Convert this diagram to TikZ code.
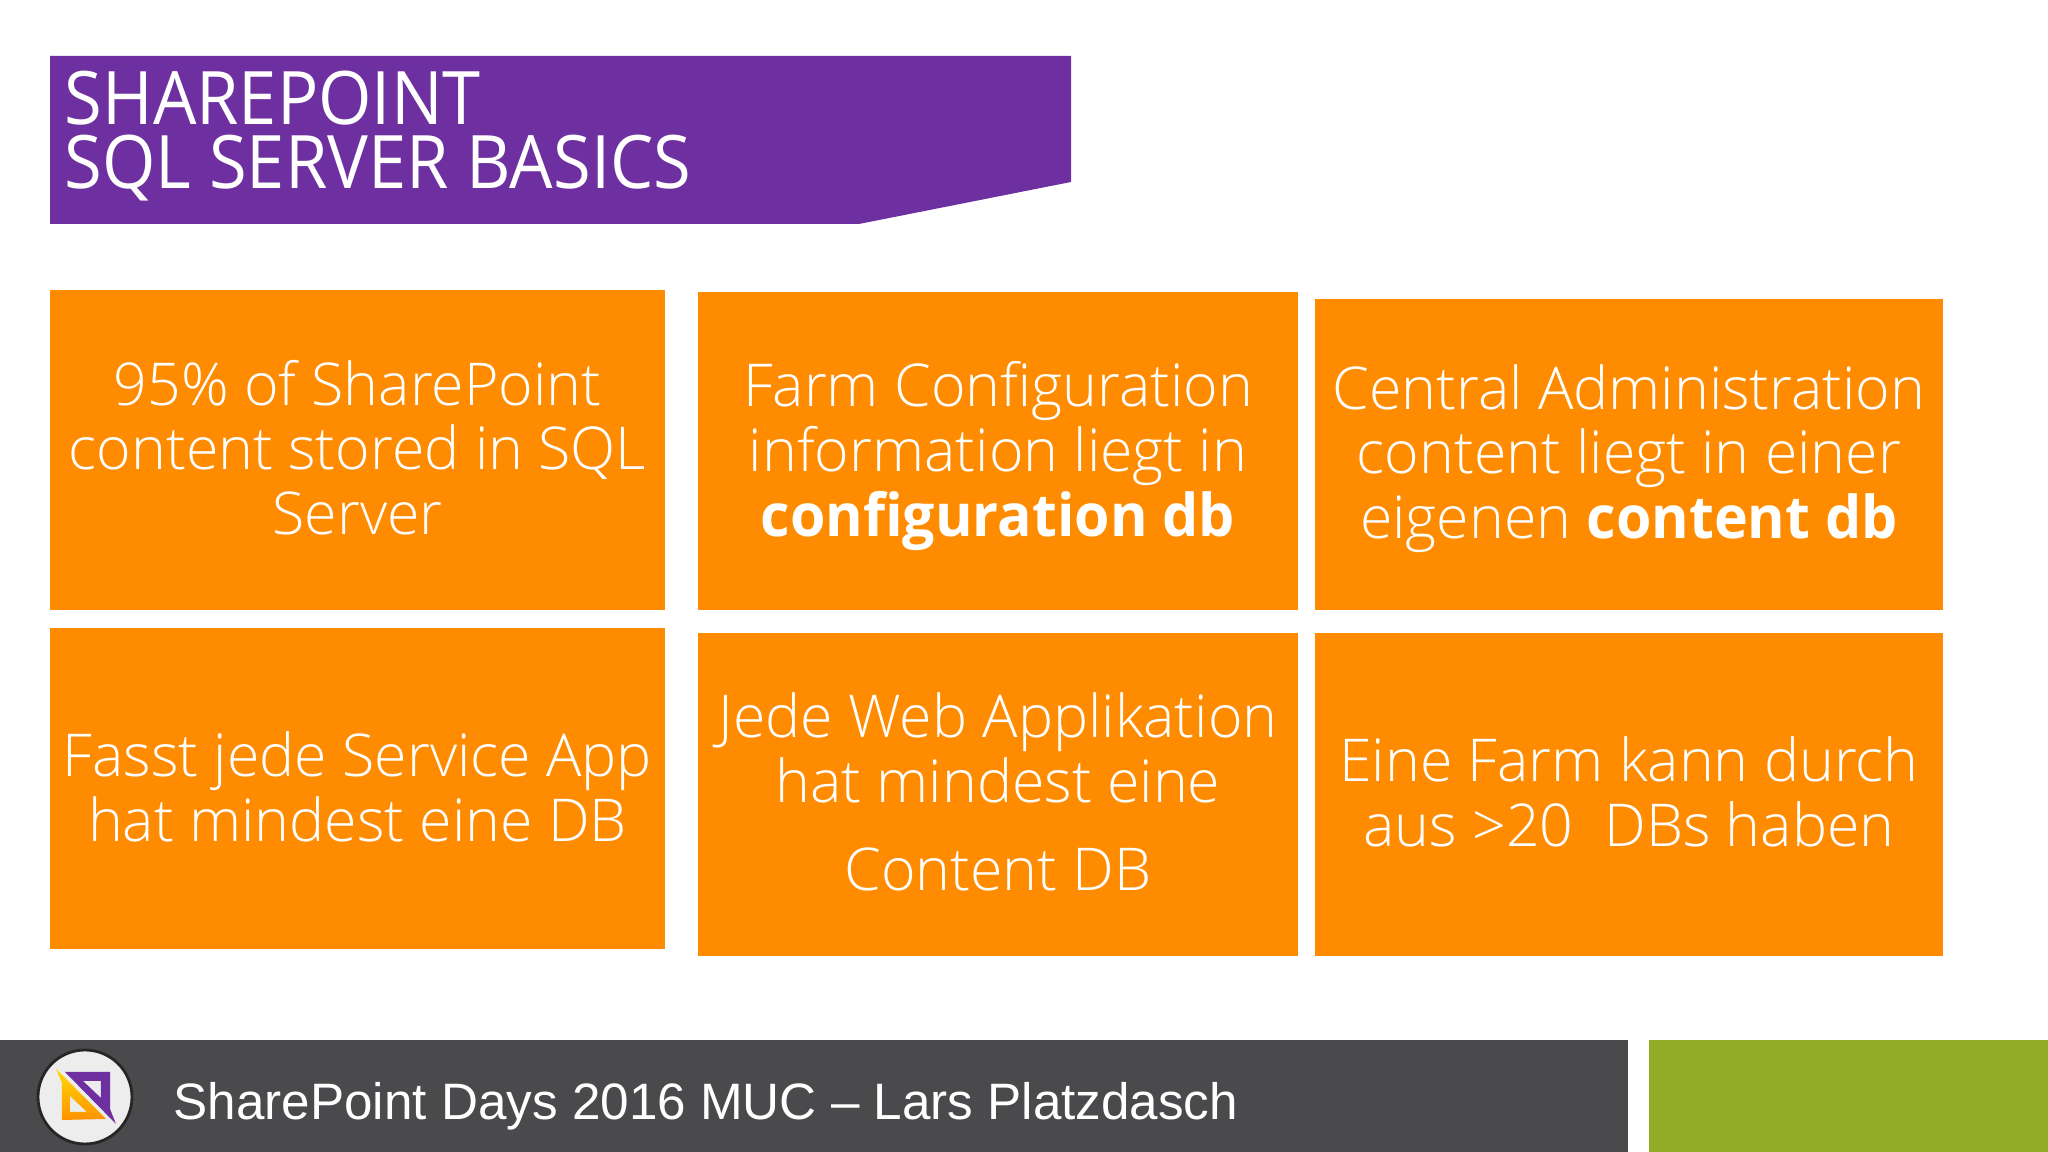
\documentclass[tikz,border=0pt]{standalone}
\usepackage{fontspec}
\setmainfont{Open Sans Light}[BoldFont={Open Sans Bold},BoldFeatures={FakeStretch=0.97}]
\newfontfamily\footfont{Liberation Sans}
\newfontfamily\titlefont{Open Sans}[FakeStretch=0.93]
\definecolor{slidepurple}{HTML}{6E30A0}
\definecolor{slideorange}{HTML}{FF8C00}
\definecolor{slidegrey}{HTML}{4A4A4C}
\definecolor{slidegreen}{HTML}{94AB28}
\tikzset{
	tile/.style={fill=slideorange, inner sep=0pt},
	tiletext/.style={text=white, align=center, inner sep=0pt, font=\fontsize{16.8}{18.4}\selectfont},
}

\begin{document}
\begin{tikzpicture}
	\useasboundingbox (0,0) rectangle (20.48,11.52);
	\fill[white] (0,0) rectangle (20.48,11.52);
	% title
	\fill[slidepurple] (0.50,10.96) -- (10.71,10.96) -- (10.71,9.70) -- (8.59,9.28) -- (0.50,9.28) -- cycle;
	\node[anchor=north west, inner sep=0pt, text=white, align=left, font=\titlefont\fontsize{21}{18.4}\selectfont] (title) at (0.64,10.82) {SHAREPOINT\\SQL SERVER BASICS};
	% tiles
	\node[tile, minimum width=6.15cm, minimum height=3.20cm] (share) at (3.575,7.02) {};
	\node[tile, minimum width=6.00cm, minimum height=3.18cm] (farm) at (9.98,7.01) {};
	\node[tile, minimum width=6.28cm, minimum height=3.11cm] (central) at (16.29,6.975) {};
	\node[tile, minimum width=6.15cm, minimum height=3.21cm] (service) at (3.575,3.635) {};
	\node[tile, minimum width=6.00cm, minimum height=3.23cm] (webapp) at (9.98,3.575) {};
	\node[tile, minimum width=6.28cm, minimum height=3.23cm] (dbs) at (16.29,3.575) {};
	\node[tiletext] (sharetext) at ([yshift=0.026cm]share) {95\% of SharePoint\\content stored in SQL\\Server};
	\node[tiletext] (farmtext) at ([yshift=-0.05cm]farm) {Farm Configuration\\information liegt in\\\textbf{configuration db}};
	\node[tiletext] (centraltext) at ([yshift=-0.04cm]central) {Central Administration\\content liegt in einer\\eigenen \textbf{content db}};
	\node[tiletext] (servicetext) at ([yshift=0.013cm]service) {Fasst jede Service App\\hat mindest eine DB};
	\node[tiletext] (webapptext) at ([yshift=0.026cm]webapp) {Jede Web Applikation\\hat mindest eine\\[6.5pt]Content DB};
	\node[tiletext] (dbstext) at ([yshift=0.026cm]dbs) {Eine Farm kann durch\\aus >20~ DBs haben};
	% footer
	\fill[slidegrey] (0,0) rectangle (16.28,1.12);
	\fill[slidegreen] (16.49,0) rectangle (20.48,1.12);
	\node[anchor=west, inner sep=0pt, text=white, font=\footfont\fontsize{14.57}{16}\selectfont] (footer) at (1.73,0.46) {SharePoint Days 2016 MUC – Lars Platzdasch};
	% logo
	\filldraw[fill=white!93!black, draw=black!85, line width=0.8pt] (0.85,0.55) circle (0.47);
	\fill[slidepurple, even odd rule] (0.65,0.80) -- (1.10,0.80) -- (1.10,0.43) -- (1.16,0.28) -- cycle (0.83,0.71) -- (1.01,0.71) -- (1.01,0.54) -- cycle;
	\shade[top color=yellow!70!orange, bottom color=orange!85!yellow, even odd rule] (0.56,0.83) -- (1.06,0.33) -- (0.62,0.32) -- (0.62,0.69) -- cycle (0.70,0.56) -- (0.87,0.40) -- (0.70,0.40) -- cycle;
\end{tikzpicture}
\end{document}
